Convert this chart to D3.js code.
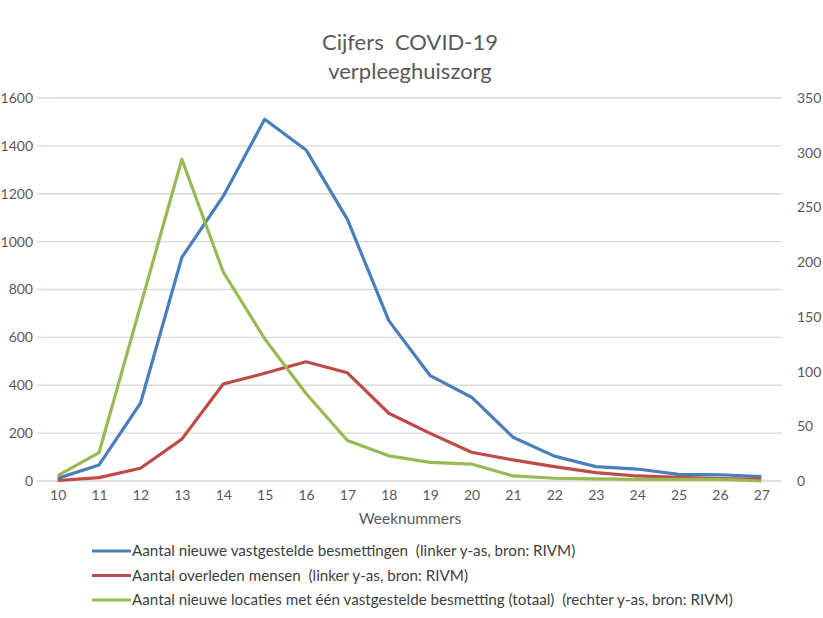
<!DOCTYPE html>
<html>
<head>
<meta charset="utf-8">
<script src="https://cdn.jsdelivr.net/npm/d3@7"></script>
<style>
  body { margin: 0; background: #fff; }
  text { font-family: Lato, "Open Sans", sans-serif; fill: #595959; }
  .title { font-size: 22px; }
  .tick text { font-size: 14px; }
  .label { font-size: 15.5px; }
  .legend text { font-size: 15.2px; fill: #404040; }
</style>
</head>
<body>
<svg id="chart"></svg>
<script>
// weeks and series
const weeks = [10, 11, 12, 13, 14, 15, 16, 17, 18, 19, 20, 21, 22, 23, 24, 25, 26, 27];
const besmettingen = [11, 67, 325, 934, 1190, 1511, 1383, 1093, 670, 440, 350, 183, 104, 60, 50, 28, 26, 18];
const overleden = [2, 14, 53, 175, 405, 450, 498, 452, 283, 199, 120, 88, 60, 35, 21, 15, 10, 7];
const locaties = [5, 26, 160, 294, 191, 130, 80, 37, 23, 17, 15.5, 4.6, 2.5, 2, 1.5, 1.5, 1.5, 0];
const leftTicks = [0, 200, 400, 600, 800, 1000, 1200, 1400, 1600];
const rightTicks = [0, 50, 100, 150, 200, 250, 300, 350];
const legendLabels = [
  "Aantal nieuwe vastgestelde besmettingen  (linker y-as, bron: RIVM)",
  "Aantal overleden mensen  (linker y-as, bron: RIVM)",
  "Aantal nieuwe locaties met één vastgestelde besmetting (totaal)  (rechter y-as, bron: RIVM)"
];
const colors = ["#4a7ebb", "#be4b48", "#98b954"];

const W = 823, H = 618;
const svg = d3.select("#chart").attr("width", W).attr("height", H);

const x = d3.scalePoint().domain(weeks).range([37, 782]).padding(0.5);
const yL = d3.scaleLinear().domain([0, 1600]).range([481, 98]);
const yR = d3.scaleLinear().domain([0, 350]).range([481, 98]);

// title
svg.append("text").attr("class", "title").attr("x", 410).attr("y", 50)
  .attr("text-anchor", "middle").style("white-space", "pre").text("Cijfers  COVID-19");
svg.append("text").attr("class", "title").attr("x", 410).attr("y", 79)
  .attr("text-anchor", "middle").text("verpleeghuiszorg");

// gridlines
svg.append("g").selectAll("line")
  .data(leftTicks).enter()
  .append("line")
  .attr("x1", 37).attr("x2", 782)
  .attr("y1", d => yL(d)).attr("y2", d => yL(d))
  .attr("stroke", "#d9d9d9").attr("stroke-width", 1.3);

// axes
const left = svg.append("g").attr("transform", "translate(37,0)")
  .call(d3.axisLeft(yL).tickValues(leftTicks).tickFormat(d3.format("d")).tickSize(0).tickPadding(4));
const right = svg.append("g").attr("transform", "translate(782,0)")
  .call(d3.axisRight(yR).tickValues(rightTicks).tickSize(0).tickPadding(15));
const bottom = svg.append("g").attr("transform", "translate(0,481)")
  .call(d3.axisBottom(x).tickSize(0).tickPadding(9));
[left, right, bottom].forEach(g => g.select(".domain").remove());
svg.selectAll(".tick text").attr("fill", "#595959");

svg.append("text").attr("class", "label").attr("x", 410).attr("y", 524)
  .attr("text-anchor", "middle").text("Weeknummers");

// lines
const lineL = d3.line().x((d, i) => x(weeks[i])).y(d => yL(d));
const lineR = d3.line().x((d, i) => x(weeks[i])).y(d => yR(d));

[[besmettingen, lineL], [overleden, lineL], [locaties, lineR]].forEach(([s, fn], i) => {
  svg.append("path")
    .datum(s)
    .attr("d", fn)
    .attr("fill", "none")
    .attr("stroke", colors[i])
    .attr("stroke-width", 3.2)
    .attr("stroke-linejoin", "round");
});

// legend
const legend = svg.append("g").attr("class", "legend");
legendLabels.forEach((t, i) => {
  const yy = 551 + i * 24.5;
  legend.append("line").attr("x1", 92).attr("x2", 131)
    .attr("y1", yy).attr("y2", yy)
    .attr("stroke", colors[i]).attr("stroke-width", 3.2);
  legend.append("text").attr("x", 132).attr("y", yy + 5)
    .style("white-space", "pre").text(t);
});
</script>
</body>
</html>
